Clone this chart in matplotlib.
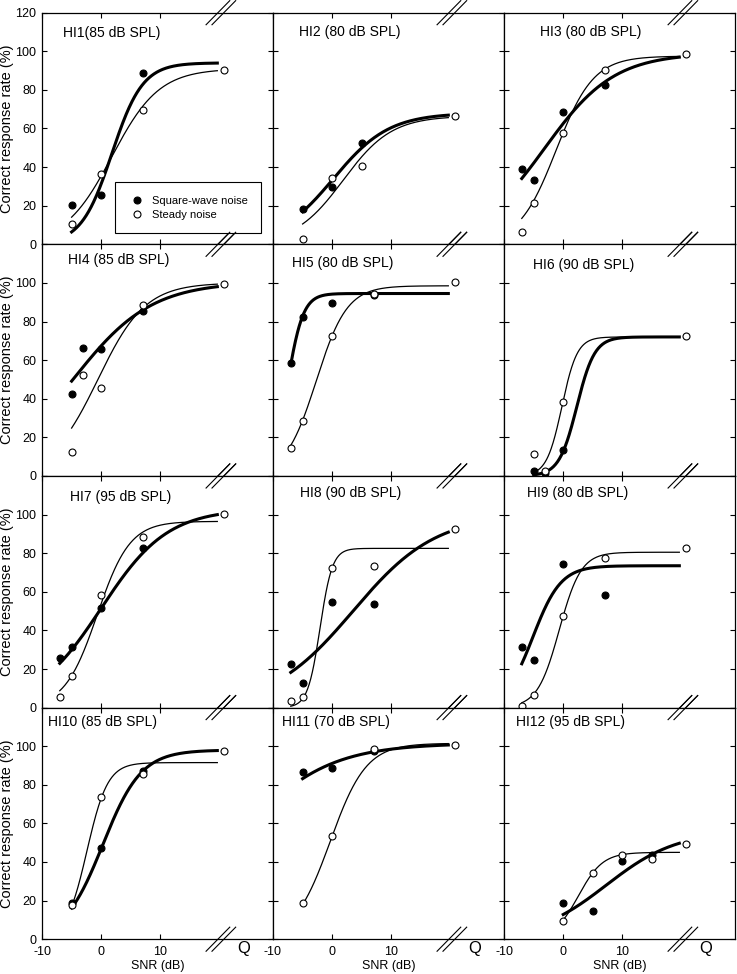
import numpy as np
import matplotlib.pyplot as plt
from matplotlib.transforms import blended_transform_factory

plt.rcParams['font.family'] = ['Liberation Sans', 'DejaVu Sans']
plt.rcParams['axes.unicode_minus'] = False

# ---- data ----
titles = ['HI1(85 dB SPL)', 'HI2 (80 dB SPL)', 'HI3 (80 dB SPL)',
          'HI4 (85 dB SPL)', 'HI5 (80 dB SPL)', 'HI6 (90 dB SPL)',
          'HI7 (95 dB SPL)', 'HI8 (90 dB SPL)', 'HI9 (80 dB SPL)',
          'HI10 (85 dB SPL)', 'HI11 (70 dB SPL)', 'HI12 (95 dB SPL)']

snr = [[-5, 0, 7], [-5, 0, 5], [-7, -5, 0, 7],
       [-5, -3, 0, 7], [-7, -5, 0, 7], [-5, -3, 0],
       [-7, -5, 0, 7], [-7, -5, 0, 7], [-7, -5, 0, 7],
       [-5, 0, 7], [-5, 0, 7], [0, 5, 10, 15]]

square_wave = [[20.5, 25.5, 89], [18.5, 29.5, 52.5], [39, 33.5, 68.5, 82.5],
               [42.5, 66.5, 65.5, 85.5], [58.5, 82.5, 89.5, 93.5], [2.5, 1.5, 13.5],
               [25.5, 31.5, 51.5, 82.5], [22.5, 12.5, 54.5, 53.5], [31.5, 24.5, 74.5, 58.5],
               [19, 47.5, 87], [86.5, 88.5, 97.5], [18.5, 14.5, 40.5, 43.5]]

steady = [[10.5, 36.5, 69.5], [2.5, 34.5, 40.5], [6.5, 21.5, 57.5, 90.5],
          [12.5, 52.5, 45.5, 88.5], [14.5, 28.5, 72.5, 94.5], [11.5, 2.5, 38.5],
          [5.5, 16.5, 58.5, 88.5], [3.5, 5.5, 72.5, 73.5], [1, 6.5, 47.5, 77.5],
          [17.5, 73.5, 85.5], [18.5, 53.5, 98.5], [9.5, 34.5, 43.5, 41.5]]

quiet = [90.5, 66.5, 98.5, 99.5, 100.5, 72.5, 100.5, 92.5, 82.5, 97.5, 100.5, 49.5]

# fitted psychometric functions: (upper asymptote, midpoint, slope)
fit_square = [(94, 1.8, 2.6), (68, 0.2, 4.7), (99, -3.2, 5.9),
              (100.5, -4.7, 6.6), (94.5, -7.6, 1.33), (72, 2.3, 1.5),
              (103, 0.0, 5.6), (100, 3.5, 7.0), (73.5, -5.1, 2.36),
              (98, 0.27, 3.25), (101.5, -16.5, 7.6), (56, 7.26, 5.97)]
fit_steady = [(91, 1.8, 4.0), (66.5, 1.85, 4.1), (97.5, -1.2, 3.16),
              (100, -0.56, 4.0), (98.5, -2.7, 2.6), (72, -0.22, 1.29),
              (96.5, -0.66, 2.75), (82.5, -2.06, 1.04), (80.5, -0.67, 1.84),
              (91.5, -2.41, 1.75), (101.5, -0.33, 3.04), (45, 2.57, 2.05)]

Q_X = 20.7        # where the quiet condition sits on the x axis
FIT_END = 19.6
BREAK_X = 20.2

# title offsets (axes fraction)
title_pos = [(0.092, 0.911), (0.112, 0.918), (0.158, 0.915),
             (0.114, 0.932), (0.083, 0.918), (0.125, 0.911),
             (0.121, 0.911), (0.115, 0.928), (0.099, 0.925),
             (0.026, 0.937), (0.040, 0.937), (0.050, 0.937)]


def logistic(x, a, x0, b):
    return a / (1.0 + np.exp(-(x - x0) / b))


W, H = 737, 974
fig = plt.figure(figsize=(W / 100, H / 100), dpi=100)
lefts = [42, 273, 504]
tops = [12.7, 244.3, 476.0, 707.6]
pw, ph = 231, 231.6

for i in range(12):
    r, c = divmod(i, 3)
    ax = fig.add_axes([lefts[c] / W, 1 - (tops[r] + ph) / H, pw / W, ph / H])
    ax.set_xlim(-10, 29)
    ax.set_ylim(0, 120)

    xs = np.linspace(snr[i][0], FIT_END, 300)
    ax.plot(xs, logistic(xs, *fit_square[i]), color='k', lw=2.2, zorder=2)
    ax.plot(xs, logistic(xs, *fit_steady[i]), color='k', lw=0.9, zorder=2)
    ax.plot(snr[i], square_wave[i], 'o', ms=5, mfc='k', mec='k', mew=0.8,
            zorder=3, label='Square-wave noise')
    ax.plot(snr[i], steady[i], 'o', ms=5, mfc='w', mec='k', mew=0.8,
            zorder=4, label='Steady noise')
    ax.plot([Q_X], [quiet[i]], 'o', ms=5, mfc='w', mec='k', mew=0.8, zorder=4)

    ax.text(title_pos[i][0], title_pos[i][1], titles[i], transform=ax.transAxes,
            fontsize=10, ha='left', va='center')

    ax.set_xticks([-10, 0, 10])
    ax.set_yticks(range(0, 121, 20))
    ax.tick_params(direction='in', top=True, right=True, length=3.5, width=0.8)
    ax.tick_params(axis='y', labelsize=9, pad=4)
    ax.tick_params(axis='x', labelsize=9, pad=5)
    for s in ax.spines.values():
        s.set_linewidth(0.9)

    tr = blended_transform_factory(ax.transData, ax.transAxes)
    for dx in (-0.5, 0.5):
        for yb in (0, 1):
            ax.plot([BREAK_X + dx - 2.0, BREAK_X + dx + 2.0], [yb - 0.052, yb + 0.052],
                    transform=tr, color='k', lw=0.8, clip_on=False, zorder=5)

    if c == 0:
        ax.set_ylabel('Correct response rate (%)', fontsize=10.5)
        ax.yaxis.set_label_coords(-0.12, 0.5)
        if r > 0:
            ax.set_yticklabels(['0', '20', '40', '60', '80', '100', ''])
    else:
        ax.tick_params(labelleft=False)

    if r == 3:
        ax.set_xlabel('SNR (dB)', fontsize=9, labelpad=1.5)
        ax.annotate('Q', xy=(24, 0), xycoords=tr, xytext=(0, -7),
                    textcoords='offset points', ha='center', va='center', fontsize=12)
    else:
        ax.tick_params(labelbottom=False)

    if i == 0:
        h, l = ax.get_legend_handles_labels()
        leg = ax.legend(h[:2], l[:2], loc='lower left', bbox_to_anchor=(0.316, 0.049),
                        borderaxespad=0, fancybox=False, edgecolor='k', framealpha=1,
                        fontsize=8, handlelength=1.5, handletextpad=0.6,
                        borderpad=1.2, labelspacing=0.35)
        leg.get_frame().set_linewidth(0.8)

fig.savefig('out.png', dpi=100)
